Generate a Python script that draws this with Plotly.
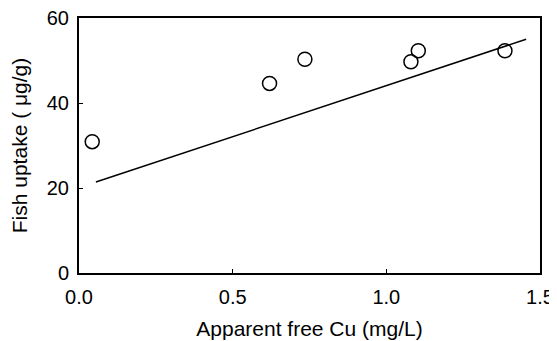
import plotly.graph_objects as go

# Observed data (apparent free Cu in mg/L, fish uptake in ug/g)
free_cu = [0.043, 0.62, 0.735, 1.08, 1.104, 1.386]
fish_uptake = [30.9, 44.6, 50.3, 49.7, 52.3, 52.3]

# Fitted line endpoints
fit_x = [0.055, 1.455]
fit_y = [21.4, 55.0]

x_ticks = [0.0, 0.5, 1.0, 1.5]
x_tick_labels = ["0.0", "0.5", "1.0", "1.5"]
y_ticks = [0, 20, 40, 60]
y_tick_labels = ["0", "20", "40", "60"]

FONT = "Liberation Sans, Arial, sans-serif"

# The page body has an 8px default margin, so the figure is sized to fit
PAGE_OFFSET = 8

fig = go.Figure()
fig.add_trace(go.Scatter(
    x=fit_x, y=fit_y, mode="lines",
    line=dict(color="black", width=1.5),
    showlegend=False, hoverinfo="skip"))
fig.add_trace(go.Scatter(
    x=free_cu, y=fish_uptake, mode="markers",
    marker=dict(symbol="circle-open", size=14, color="black",
                line=dict(width=1.5, color="black")),
    showlegend=False))

axis_common = dict(
    showline=True, linecolor="black", linewidth=2, mirror=True,
    ticks="inside", ticklen=4, tickwidth=1.2, tickcolor="black",
    showgrid=False, zeroline=False, automargin=False,
    ticklabeloverflow="allow",
    tickfont=dict(family=FONT, size=20, color="black"),
)

fig.update_layout(
    width=557 - PAGE_OFFSET, height=341 - PAGE_OFFSET,
    margin=dict(l=79 - PAGE_OFFSET, r=17, t=18 - PAGE_OFFSET, b=68),
    paper_bgcolor="white", plot_bgcolor="white",
    font=dict(family=FONT, color="black"),
    xaxis=dict(range=[0, 1.5], tickvals=x_ticks, ticktext=x_tick_labels,
               ticklabelstandoff=5,
               title=dict(text="Apparent free Cu (mg/L)",
                          font=dict(family=FONT, size=21, color="black"),
                          standoff=14),
               **axis_common),
    yaxis=dict(range=[0, 60], tickvals=y_ticks, ticktext=y_tick_labels,
               ticklabelstandoff=4,
               title=dict(text="Fish uptake ( \u03bcg/g)",
                          font=dict(family=FONT, size=21, color="black"),
                          standoff=15),
               **axis_common),
)

fig.write_html("out.html")
